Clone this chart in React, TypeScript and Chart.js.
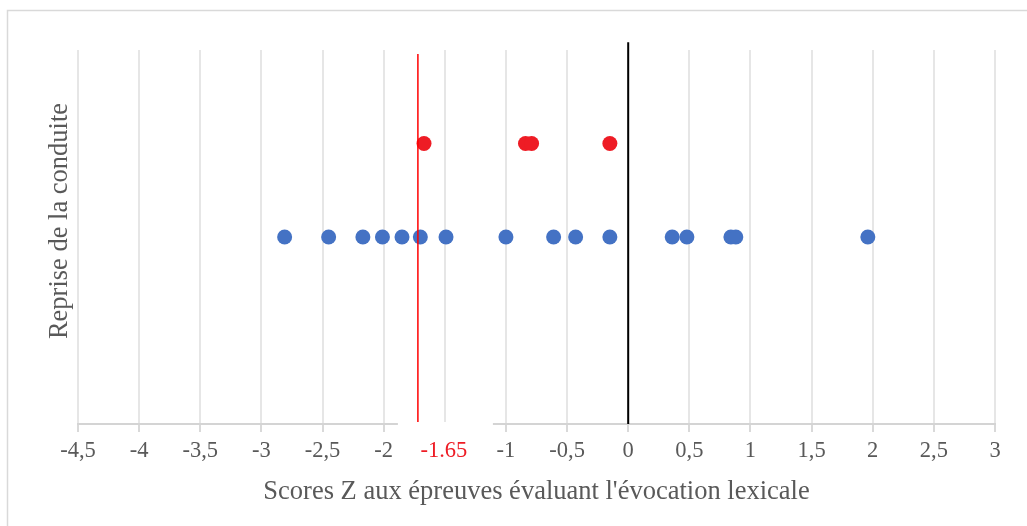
import React, { useEffect, useRef } from "react";
import { Chart, registerables } from "chart.js";

Chart.register(...registerables);

// Data
const blueScores = [-2.81, -2.45, -2.17, -2.01, -1.85, -1.70, -1.49, -1.00, -0.61, -0.43, -0.15, 0.36, 0.48, 0.84, 0.88, 1.96];
const blueLevel = 0.5;
const redScores = [-1.67, -0.84, -0.79, -0.15];
const redLevel = 0.75;
const xTicksMin = -4.5;
const xTicksMax = 3;
const xStep = 0.5;
const refLineValue = -1.72;
const refLineLabel = "-1.65";
const zeroLineValue = 0;
const xTitle = "Scores Z aux épreuves évaluant l'évocation lexicale";
const yTitle = "Reprise de la conduite";

const FONT = "'Liberation Serif', 'Times New Roman', serif";
const GREY = "#595959";

export default function App() {
  const ref = useRef<HTMLCanvasElement | null>(null);

  useEffect(() => {
    if (!ref.current) return;

    const framePlugin = {
      id: "frame",
      beforeDraw(chart: any) {
        const ctx = chart.ctx;
        ctx.save();
        ctx.strokeStyle = "#d9d9d9";
        ctx.lineWidth = 1.5;
        ctx.beginPath();
        ctx.moveTo(7.5, chart.height);
        ctx.lineTo(7.5, 10.5);
        ctx.lineTo(chart.width, 10.5);
        ctx.stroke();
        ctx.restore();
      },
    };

    const labelPlugin = {
      id: "refLabel",
      afterDatasetsDraw(chart: any) {
        const ctx = chart.ctx;
        const xs = chart.scales.x;
        const px = xs.getPixelForValue(refLineValue);
        const cx = px + 26;
        ctx.save();
        ctx.fillStyle = "#ffffff";
        ctx.fillRect(cx - 46, chart.chartArea.bottom - 2, 95, 48);
        ctx.fillStyle = "#ee1c25";
        ctx.font = `22.5px ${FONT}`;
        ctx.textAlign = "center";
        ctx.textBaseline = "middle";
        ctx.fillText(refLineLabel, cx, 451);
        ctx.restore();

        // y-axis title (placed as in the reference, slightly above the plot centre)
        ctx.save();
        ctx.translate(60, 221);
        ctx.rotate(-Math.PI / 2);
        ctx.fillStyle = GREY;
        ctx.font = `26.5px ${FONT}`;
        ctx.textAlign = "center";
        ctx.textBaseline = "middle";
        ctx.fillText(yTitle, 0, 0);
        ctx.restore();
      },
    };

    const chart = new Chart(ref.current, {
      type: "scatter",
      data: {
        datasets: [
          {
            data: [
              { x: zeroLineValue, y: 0 },
              { x: zeroLineValue, y: 1.021 },
            ],
            showLine: true,
            borderColor: "#000000",
            borderWidth: 2,
            pointRadius: 0,
            clip: false,
          } as any,
          {
            data: [
              { x: refLineValue, y: 0 },
              { x: refLineValue, y: 0.989 },
            ],
            showLine: true,
            borderColor: "#ff0000",
            borderWidth: 1.5,
            pointRadius: 0,
            clip: false,
          } as any,
          {
            data: blueScores.map((x) => ({ x, y: blueLevel })),
            backgroundColor: "#4472c4",
            borderWidth: 0,
            pointRadius: 7.5,
          },
          {
            data: redScores.map((x) => ({ x, y: redLevel })),
            backgroundColor: "#ee1c25",
            borderWidth: 0,
            pointRadius: 7.5,
          },
        ],
      },
      options: {
        responsive: false,
        animation: false,
        devicePixelRatio: 1,
        layout: { padding: { top: 50, right: 32, left: 0, bottom: 0 } },
        plugins: { legend: { display: false }, tooltip: { enabled: false } },
        scales: {
          x: {
            type: "linear",
            min: xTicksMin,
            max: xTicksMax,
            ticks: {
              stepSize: xStep,
              color: GREY,
              font: { family: FONT, size: 22.5 },
              padding: 6,
              callback: (v: any) => String(Math.round(Number(v) * 10) / 10).replace(".", ","),
            },
            grid: {
              color: "#e6e6e6",
              lineWidth: 2,
              drawTicks: true,
              tickLength: 8,
              tickColor: "#d9d9d9",
            },
            border: { display: true, color: "#d4d4d4", width: 2 },
            title: {
              display: true,
              text: xTitle,
              color: GREY,
              font: { family: FONT, size: 26.5 },
              padding: { top: 0, bottom: 18 },
            },
            afterFit: (s: any) => {
              s.height = 102;
            },
          },
          y: {
            type: "linear",
            min: 0,
            max: 1,
            ticks: { display: false },
            grid: { display: false },
            border: { display: false },
            title: { display: false },
            afterFit: (s: any) => {
              s.width = 78;
            },
          },
        },
      },
      plugins: [framePlugin, labelPlugin],
    });

    return () => chart.destroy();
  }, []);

  return (
    <div style={{ position: "absolute", left: 0, top: 0, width: 1027, height: 526, background: "#fff" }}>
      <canvas ref={ref} width={1027} height={526} style={{ display: "block" }} />
    </div>
  );
}
